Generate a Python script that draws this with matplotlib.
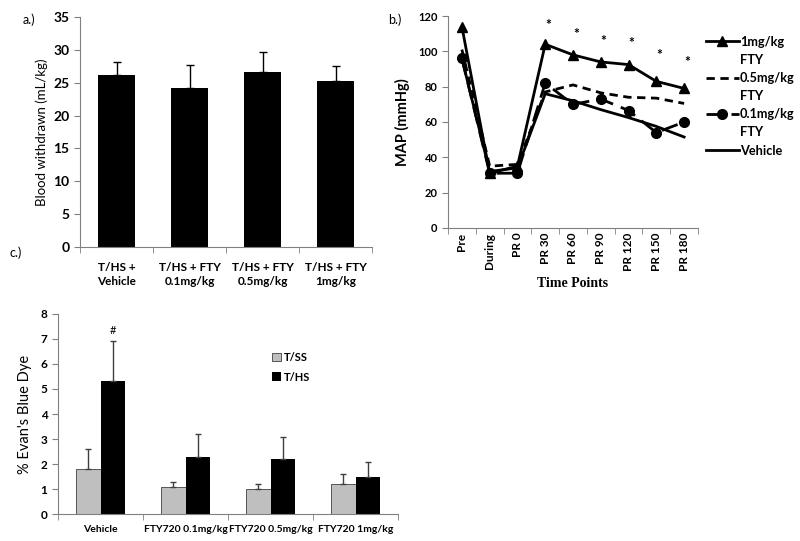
import matplotlib
matplotlib.use("Agg")
import matplotlib.pyplot as plt
from matplotlib.lines import Line2D
import numpy as np

plt.rcParams['font.family'] = ['Lato', 'DejaVu Sans']

# --- panel a data ---
a_labels = ["T/HS +\nVehicle", "T/HS + FTY\n0.1mg/kg", "T/HS + FTY\n0.5mg/kg", "T/HS + FTY\n1mg/kg"]
a_values = [26.2, 24.2, 26.6, 25.2]
a_err = [1.9, 3.5, 3.1, 2.3]

# --- panel b data ---
b_times = ["Pre", "During", "PR 0", "PR 30", "PR 60", "PR 90", "PR 120", "PR 150", "PR 180"]
b_1mg = [114, 31, 35, 104, 98, 94, 92.5, 83, 79]
b_05mg = [101, 35, 36, 77, 81, 76.5, 74, 73.5, 70.5]
b_01mg = [96, 31, 31, 82, 70, 73, 66.5, 54, 60]
b_vehicle = [96, 32, 34, 76, 72, 67, 62.5, 57.5, 51.5]
b_star_y = [115, 110, 106, 104.5, 98, 94]  # asterisks for PR 30..PR 180

# --- panel c data ---
c_labels = ["Vehicle", "FTY720 0.1mg/kg", "FTY720 0.5mg/kg", "FTY720 1mg/kg"]
c_tss = [1.8, 1.1, 1.0, 1.2]
c_tss_err = [0.8, 0.2, 0.2, 0.4]
c_ths = [5.3, 2.3, 2.2, 1.5]
c_ths_err = [1.6, 0.9, 0.9, 0.6]

SPINE = "#808080"


def excel_axes(ax, n):
    for s in ["top", "right"]:
        ax.spines[s].set_visible(False)
    ax.spines["left"].set_color(SPINE)
    ax.spines["bottom"].set_color(SPINE)
    ax.set_xlim(-0.5, n - 0.5)
    ax.set_xticks(range(n))
    ax.set_xticks(np.arange(-0.5, n, 1.0), minor=True)
    ax.tick_params(axis="x", which="major", length=0)
    ax.tick_params(axis="x", which="minor", length=4, color=SPINE)
    ax.tick_params(axis="y", length=4, color=SPINE)


fig = plt.figure(figsize=(8, 5.41), dpi=100)

# ---------------- panel a ----------------
ax1 = fig.add_axes([0.10, 0.5434, 0.365, 0.4252])
x = np.arange(len(a_values))
ax1.bar(x, a_values, width=0.5, color="black",
        yerr=[np.zeros(len(a_err)), a_err], error_kw=dict(ecolor="black", elinewidth=1, capsize=3, capthick=1))
excel_axes(ax1, len(a_values))
ax1.set_ylim(0, 35)
ax1.set_yticks(range(0, 36, 5))
ax1.set_xticklabels(a_labels, fontsize=8.5, fontweight="bold", linespacing=1.3)
for t in ax1.get_yticklabels():
    t.set_fontsize(10)
    t.set_fontweight("bold")
ax1.set_ylabel("Blood withdrawn (mL/kg)", fontsize=9.5, labelpad=4)
ax1.xaxis.set_tick_params(pad=11)

# ---------------- panel b ----------------
ax2 = fig.add_axes([0.56, 0.5786, 0.3125, 0.3918])
xb = np.arange(len(b_times))
l1, = ax2.plot(xb, b_1mg, color="black", lw=2, marker="^", ms=7)
l2, = ax2.plot(xb, b_05mg, color="black", lw=2, ls=(0, (3, 2)))
l3, = ax2.plot(xb, b_01mg, color="black", lw=2, ls=(0, (6, 3)), marker="o", ms=7)
l4, = ax2.plot(xb, b_vehicle, color="black", lw=2)
for i, yv in enumerate(b_star_y):
    ax2.text(3 + i + 0.1, yv, "*", ha="center", va="center", fontsize=10, fontweight="bold")
excel_axes(ax2, len(b_times))
ax2.set_ylim(0, 120)
ax2.set_yticks(range(0, 121, 20))
ax2.set_xticklabels(b_times, rotation=90, fontsize=8.5, fontweight="bold")
for t in ax2.get_yticklabels():
    t.set_fontsize(8)
    t.set_fontweight("bold")
ax2.set_xlabel("Time Points", fontsize=10, fontweight="bold", family="Liberation Serif")
ax2.set_ylabel("MAP (mmHg)", fontsize=10.5, fontweight="bold", labelpad=6)
blank = Line2D([], [], color="none")
ax2.legend([l1, blank, l2, blank, l3, blank, l4],
           ["1mg/kg", "FTY", "0.5mg/kg", "FTY", "0.1mg/kg", "FTY", "Vehicle"],
           loc="upper left", bbox_to_anchor=(0.882, 0.934), bbox_transform=fig.transFigure,
           frameon=False, handlelength=2.6, handletextpad=0.1, labelspacing=0.48,
           borderpad=0, borderaxespad=0, prop=dict(size=9.2, weight="bold"))

# ---------------- panel c ----------------
ax3 = fig.add_axes([0.0725, 0.0499, 0.425, 0.3697])
xc = np.arange(len(c_labels))
w = 0.285
ax3.bar(xc - w / 2, c_tss, width=w, color="#BFBFBF", edgecolor="#404040", linewidth=0.6, label="T/SS",
        yerr=[np.zeros(4), c_tss_err], error_kw=dict(ecolor="#404040", elinewidth=1, capsize=2.5, capthick=1))
ax3.bar(xc + w / 2, c_ths, width=w, color="black", label="T/HS",
        yerr=[np.zeros(4), c_ths_err], error_kw=dict(ecolor="#404040", elinewidth=1, capsize=2.5, capthick=1))
ax3.text(xc[0] + w / 2, 7.35, "#", ha="center", va="center", fontsize=8)
excel_axes(ax3, len(c_labels))
ax3.set_ylim(0, 8)
ax3.set_yticks(range(0, 9))
ax3.set_xticklabels(c_labels, fontsize=7.5, fontweight="bold")
ax3.xaxis.set_tick_params(pad=8)
for t in ax3.get_yticklabels():
    t.set_fontsize(8.5)
    t.set_fontweight("bold")
ax3.set_ylabel("% Evan's Blue Dye", fontsize=10.5, labelpad=6)
ax3.legend(loc="upper left", bbox_to_anchor=(0.34, 0.35), bbox_transform=fig.transFigure,
           frameon=False, handlelength=0.8, handleheight=0.8, handletextpad=0.3, labelspacing=0.8,
           borderpad=0, borderaxespad=0, prop=dict(size=8, weight="bold"))

# panel labels
fig.text(0.028, 0.975, "a.)", fontsize=9, va="top")
fig.text(0.485, 0.975, "b.)", fontsize=9, va="top")
fig.text(0.012, 0.545, "c.)", fontsize=9, va="top")

fig.savefig("out.png", dpi=100)
